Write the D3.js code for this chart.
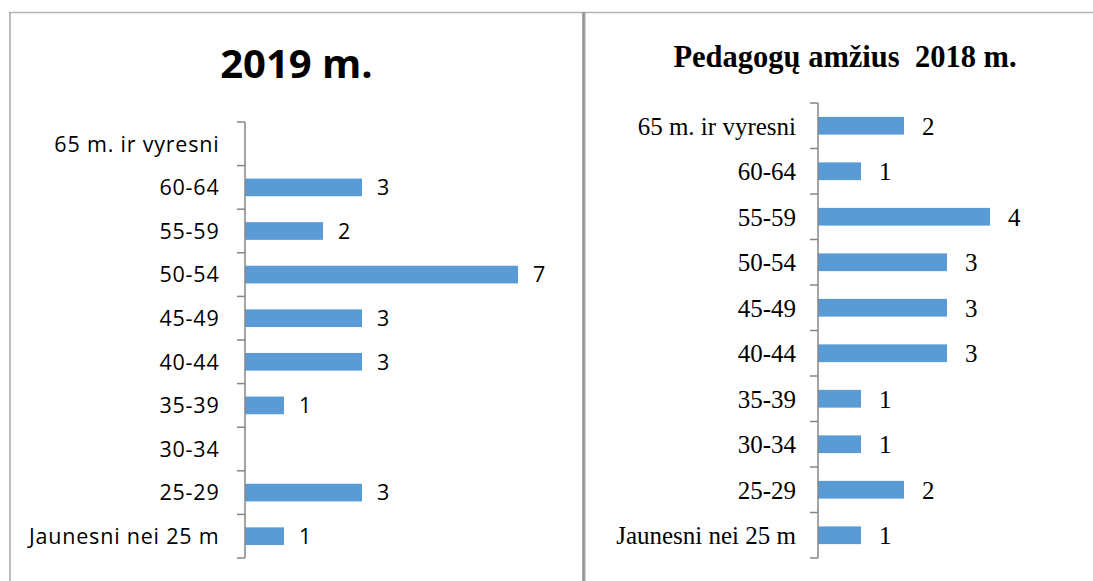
<!DOCTYPE html>
<html>
<head>
<meta charset="utf-8">
<script src="https://cdn.jsdelivr.net/npm/d3@7"></script>
<style>
  html, body { margin: 0; padding: 0; background: #ffffff; }
  svg { display: block; }
</style>
</head>
<body>
<svg id="chart" width="1093" height="581"></svg>
<script>
// ---- Data ----
const categories = ["Jaunesni nei 25 m", "25-29", "30-34", "35-39", "40-44", "45-49", "50-54", "55-59", "60-64", "65 m. ir vyresni"];
const values2019 = [1, 3, null, 1, 3, 3, 7, 2, 3, null];
const values2018 = [1, 2, 1, 1, 3, 3, 3, 4, 1, 2];
const title2019 = "2019 m.";
const title2018 = "Pedagogų amžius  2018 m.";

const svg = d3.select("#chart");
const barColor = "#5B9BD5";
const axisColor = "#868686";

// ---- Panel frame ----
svg.append("line").attr("x1", 9).attr("x2", 1093).attr("y1", 12.5).attr("y2", 12.5)
  .attr("stroke", "#b4b4b4").attr("stroke-width", 1.5);
svg.append("line").attr("x1", 10).attr("x2", 10).attr("y1", 12).attr("y2", 581)
  .attr("stroke", "#a6a6a6").attr("stroke-width", 1.5);
svg.append("rect").attr("x", 582).attr("y", 12).attr("width", 3.5).attr("height", 569)
  .attr("fill", "#a8a8a8");
svg.append("line").attr("x1", 583.8).attr("x2", 583.8).attr("y1", 12).attr("y2", 581)
  .attr("stroke", "#8c8c8c").attr("stroke-width", 1);

function drawPanel(opts) {
  const g = svg.append("g");
  const y = d3.scaleBand().domain(categories.slice().reverse())
    .range([opts.top, opts.bottom]).paddingInner(opts.pad).paddingOuter(opts.pad / 2);
  const yEdges = d3.scaleLinear().domain([0, categories.length]).range([opts.bottom, opts.top]);
  const x = d3.scaleLinear().domain([0, opts.maxVal]).range([opts.axisX, opts.axisX + opts.unit * opts.maxVal]);

  // title
  g.append("text").attr("x", opts.titleX).attr("y", opts.titleY)
    .attr("text-anchor", "middle")
    .style("font-family", opts.titleFont).style("font-weight", "bold")
    .style("font-size", opts.titleSize + "px").style("white-space", "pre")
    .attr("fill", "#000")
    .text(opts.title);

  // bars
  const data = categories.map((c, i) => ({ c, v: opts.values[i] }));
  g.selectAll("rect.bar").data(data.filter(d => d.v != null)).enter().append("rect")
    .attr("class", "bar")
    .attr("x", x(0)).attr("y", d => y(d.c))
    .attr("width", d => x(d.v) - x(0)).attr("height", y.bandwidth())
    .attr("fill", barColor);

  // value labels
  g.selectAll("text.val").data(data.filter(d => d.v != null)).enter().append("text")
    .attr("class", "val")
    .attr("x", d => x(d.v) + opts.valGap)
    .attr("y", d => y(d.c) + y.bandwidth() / 2)
    .attr("dy", "0.36em")
    .style("font-family", opts.font).style("font-size", opts.fontSize + "px")
    .attr("fill", "#000").text(d => d.v);

  // axis line
  g.append("line").attr("x1", opts.axisX).attr("x2", opts.axisX)
    .attr("y1", opts.top).attr("y2", opts.bottom)
    .attr("stroke", axisColor).attr("stroke-width", 1.5);
  // ticks at category boundaries
  g.selectAll("line.tick").data(d3.range(categories.length + 1)).enter().append("line")
    .attr("x1", opts.axisX - 8).attr("x2", opts.axisX)
    .attr("y1", d => yEdges(d)).attr("y2", d => yEdges(d))
    .attr("stroke", axisColor).attr("stroke-width", 1.5);

  // category labels
  g.selectAll("text.cat").data(categories).enter().append("text")
    .attr("class", "cat")
    .attr("x", opts.labelX).attr("y", d => y(d) + y.bandwidth() / 2)
    .attr("dy", "0.36em").attr("text-anchor", "end")
    .style("font-family", opts.font).style("font-size", opts.fontSize + "px")
    .style("letter-spacing", opts.letterSpacing + "px")
    .attr("fill", "#000").text(d => d);
}

drawPanel({
  values: values2019, title: title2019,
  top: 122, bottom: 558, pad: 0.594, axisX: 245, unit: 39, maxVal: 7,
  labelX: 219.5, valGap: 15, letterSpacing: 0.8,
  font: "'Open Sans', sans-serif", fontSize: 21.5,
  titleFont: "'Open Sans', sans-serif", titleSize: 40, titleX: 296.5, titleY: 78
});

drawPanel({
  values: values2018, title: title2018,
  top: 103, bottom: 558, pad: 0.61, axisX: 818, unit: 43, maxVal: 4,
  labelX: 796, valGap: 18, letterSpacing: 0,
  font: "'Liberation Serif', 'Times New Roman', serif", fontSize: 25,
  titleFont: "'Liberation Serif', 'Times New Roman', serif", titleSize: 30.5, titleX: 845, titleY: 67
});
</script>
</body>
</html>
